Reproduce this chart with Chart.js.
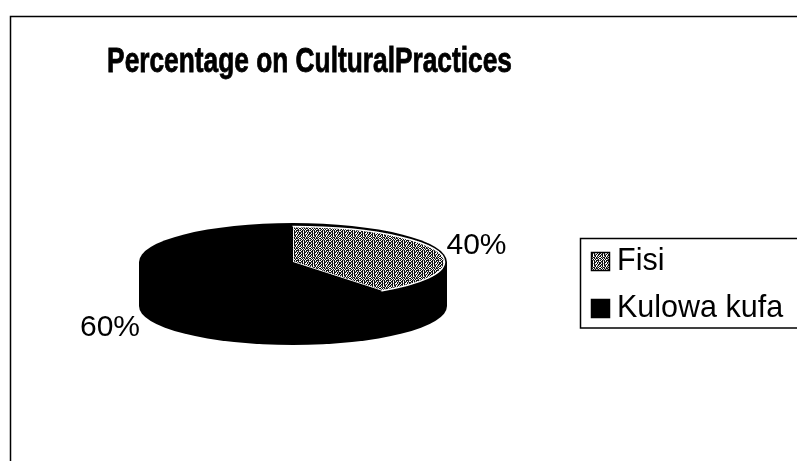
<!DOCTYPE html>
<html>
<head>
<meta charset="utf-8">
<script src="https://cdn.jsdelivr.net/npm/chart.js@4.4.1/dist/chart.umd.min.js"></script>
<style>
  html, body { margin: 0; padding: 0; background: #ffffff; }
  #wrap { width: 797px; height: 461px; position: relative; }
  canvas { display: block; }
</style>
</head>
<body>
<div id="wrap"><canvas id="c" width="797" height="461"></canvas></div>
<script>
// ---- data ----
const TITLE = 'Percentage on CulturalPractices';
const CATEGORIES = ['Fisi', 'Kulowa kufa'];
const PERCENTAGES = [40, 60];

// ---- style ----
const FONT = '"Liberation Sans", Arial, Helvetica, sans-serif';
const TILT = 0.253;      // ellipse squash (ry / rx)
const DEPTH = 0.286;     // cylinder depth relative to radius

// speckled texture for the "Fisi" slice
function makePattern(ctx) {
  const TILE = [
    '#.#+#.###+',
    '.##.#+#.#.',
    '#+#.##.#+#',
    '#.#+#..#.#',
    '.##.#+#.##',
    '#+#.##.+#.',
    '#.#.+#.#.#',
    '.#+##.#+#.',
    '#.#.#+##.#',
    '+#.#.#.+#.'
  ];
  const map = { '.': '#ffffff', '+': '#9a9a9a', '#': '#111111' };
  const n = TILE.length;
  const c = document.createElement('canvas');
  c.width = n; c.height = n;
  const g = c.getContext('2d');
  TILE.forEach((row, yy) => {
    [...row].forEach((ch, xx) => { g.fillStyle = map[ch]; g.fillRect(xx, yy, 1, 1); });
  });
  return ctx.createPattern(c, 'repeat');
}

const canvas = document.getElementById('c');
const ctx0 = canvas.getContext('2d');
const fisiPattern = makePattern(ctx0);
const SLICE_FILLS = [fisiPattern, '#000000'];

function geom(chart) {
  const arcs = chart.getDatasetMeta(0).data;
  const c = arcs[0].getProps(['x', 'y', 'outerRadius'], true);
  return { arcs, x: c.x, y: c.y, rx: c.outerRadius, ry: c.outerRadius * TILT, depth: c.outerRadius * DEPTH };
}

const pie3d = {
  id: 'pie3d',
  beforeDraw(chart) {
    const ctx = chart.ctx;
    ctx.save();
    ctx.fillStyle = '#ffffff';
    ctx.fillRect(0, 0, chart.width, chart.height);
    // outer chart frame
    ctx.strokeStyle = '#000000';
    ctx.lineWidth = 1.5;
    ctx.strokeRect(10.5, 16.5, chart.width + 20, chart.height + 20);
    ctx.restore();
  },
  beforeDatasetsDraw(chart) {
    const ctx = chart.ctx;
    const g = geom(chart);
    ctx.save();
    // side wall + rim
    ctx.fillStyle = '#000000';
    ctx.beginPath();
    ctx.ellipse(g.x, g.y + g.depth, g.rx, g.ry, 0, 0, Math.PI * 2);
    ctx.fill();
    ctx.fillRect(g.x - g.rx, g.y, 2 * g.rx, g.depth);
    ctx.beginPath();
    ctx.ellipse(g.x, g.y, g.rx, g.ry, 0, 0, Math.PI * 2);
    ctx.fill();
    // top faces (slightly inset from the rim)
    const irx = g.rx - 2.5, iry = g.ry - 3.5;
    g.arcs.forEach((arc, i) => {
      const p = arc.getProps(['startAngle', 'endAngle'], true);
      ctx.beginPath();
      ctx.moveTo(g.x, g.y);
      ctx.ellipse(g.x, g.y, irx, iry, 0, p.startAngle, p.endAngle);
      ctx.closePath();
      ctx.fillStyle = SLICE_FILLS[i];
      ctx.fill();
      if (i === 0) {
        ctx.strokeStyle = '#ffffff';
        ctx.lineWidth = 1.5;
        ctx.stroke();
      }
    });
    ctx.restore();
    return false;
  },
  afterDraw(chart) {
    const ctx = chart.ctx;
    const g = geom(chart);
    const values = chart.data.datasets[0].data;
    const total = values.reduce((a, b) => a + b, 0);

    // data labels
    ctx.save();
    ctx.fillStyle = '#000000';
    ctx.font = '30px ' + FONT;
    ctx.textBaseline = 'alphabetic';
    g.arcs.forEach((arc, i) => {
      const p = arc.getProps(['startAngle', 'endAngle'], true);
      const mid = (p.startAngle + p.endAngle) / 2;
      const txt = Math.round(values[i] / total * 100) + '%';
      if (Math.cos(mid) > 0) {
        ctx.textAlign = 'left';
        ctx.fillText(txt, g.x + g.rx * Math.cos(mid) + 7, g.y + g.ry * Math.sin(mid) + 4);
      } else {
        ctx.textAlign = 'right';
        ctx.fillText(txt, g.x - g.rx + 1, g.y + g.ry + g.depth * 0.8);
      }
    });
    ctx.restore();

    // title (narrow, tall bold face)
    ctx.save();
    ctx.fillStyle = '#000000';
    ctx.strokeStyle = '#000000';
    ctx.lineWidth = 0.6;
    ctx.font = 'bold 26.3px ' + FONT;
    ctx.textAlign = 'center';
    ctx.textBaseline = 'alphabetic';
    ctx.translate(309.5, 72);
    ctx.scale(1, 1.36);
    ctx.fillText(TITLE, 0, 0);
    ctx.strokeText(TITLE, 0, 0);
    ctx.restore();

    // legend
    ctx.save();
    ctx.strokeStyle = '#000000';
    ctx.lineWidth = 1.5;
    ctx.strokeRect(580.5, 238.5, 240, 89.5);
    ctx.font = '30.5px ' + FONT;
    ctx.textAlign = 'left';
    ctx.textBaseline = 'alphabetic';
    chart.data.labels.forEach((lab, i) => {
      const base = 270 + i * 47;
      const bx = 591, by = base - 18, bs = 19;
      ctx.fillStyle = SLICE_FILLS[i];
      ctx.fillRect(bx, by, bs, bs);
      ctx.strokeStyle = '#000000';
      ctx.lineWidth = 1.5;
      ctx.strokeRect(bx + 0.5, by + 0.5, bs - 1, bs - 1);
      ctx.fillStyle = '#000000';
      ctx.fillText(lab, 617, base);
    });
    ctx.restore();
  }
};

new Chart(canvas, {
  type: 'pie',
  data: {
    labels: CATEGORIES,
    datasets: [{
      data: PERCENTAGES,
      backgroundColor: ['#666666', '#000000'],
      borderWidth: 0,
      hoverOffset: 0
    }]
  },
  options: {
    responsive: false,
    animation: false,
    events: [],
    devicePixelRatio: 1,
    layout: { padding: { left: 139, right: 350, top: 108, bottom: 45 } },
    plugins: {
      legend: { display: false },
      title: { display: false },
      tooltip: { enabled: false }
    }
  },
  plugins: [pie3d]
});
</script>
</body>
</html>
